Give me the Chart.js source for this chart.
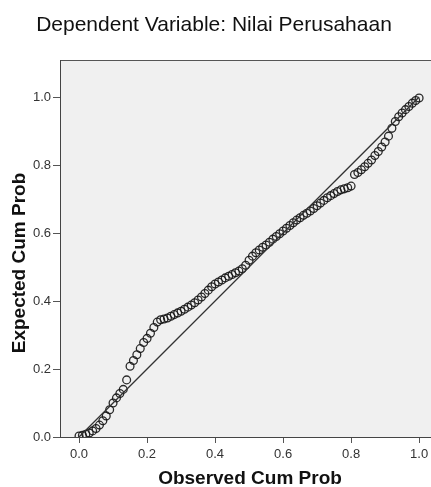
<!DOCTYPE html>
<html>
<head>
<meta charset="utf-8">
<script src="https://cdn.jsdelivr.net/npm/chart.js@4.4.1/dist/chart.umd.min.js"></script>
<style>
  html, body { margin: 0; padding: 0; background: #fff; }
  #wrap { width: 431px; height: 487px; }
</style>
</head>
<body>
<div id="wrap"><canvas id="ppplot" width="431" height="487"></canvas></div>
<script>
// P-P plot data
const chartTitle = "Dependent Variable: Nilai Perusahaan";
const xTitle = "Observed Cum Prob";
const yTitle = "Expected Cum Prob";

const tickValues = [0.0, 0.2, 0.4, 0.6, 0.8, 1.0];

const observedProb = [
  0.00, 0.01, 0.02, 0.03, 0.04, 0.05, 0.06, 0.07, 0.08, 0.09,
  0.10, 0.11, 0.12, 0.13, 0.14, 0.15, 0.16, 0.17, 0.18, 0.19,
  0.20, 0.21, 0.22, 0.23, 0.24, 0.25, 0.26, 0.27, 0.28, 0.29,
  0.30, 0.31, 0.32, 0.33, 0.34, 0.35, 0.36, 0.37, 0.38, 0.39,
  0.40, 0.41, 0.42, 0.43, 0.44, 0.45, 0.46, 0.47, 0.48, 0.49,
  0.50, 0.51, 0.52, 0.53, 0.54, 0.55, 0.56, 0.57, 0.58, 0.59,
  0.60, 0.61, 0.62, 0.63, 0.64, 0.65, 0.66, 0.67, 0.68, 0.69,
  0.70, 0.71, 0.72, 0.73, 0.74, 0.75, 0.76, 0.77, 0.78, 0.79,
  0.80, 0.81, 0.82, 0.83, 0.84, 0.85, 0.86, 0.87, 0.88, 0.89,
  0.90, 0.91, 0.92, 0.93, 0.94, 0.95, 0.96, 0.97, 0.98, 0.99,
  1.00
];

const expectedProb = [
  0.003, 0.005, 0.008, 0.012, 0.018, 0.025, 0.035, 0.048, 0.062, 0.080,
  0.100, 0.115, 0.128, 0.140, 0.168, 0.208, 0.225, 0.242, 0.260, 0.278,
  0.290, 0.305, 0.322, 0.338, 0.345, 0.347, 0.350, 0.355, 0.360, 0.365,
  0.370, 0.376, 0.382, 0.388, 0.395, 0.403, 0.412, 0.422, 0.432, 0.442,
  0.450, 0.456, 0.462, 0.468, 0.473, 0.478, 0.483, 0.488, 0.495, 0.505,
  0.520, 0.532, 0.542, 0.550, 0.558, 0.565, 0.573, 0.582, 0.590, 0.598,
  0.606, 0.614, 0.622, 0.630, 0.638, 0.645, 0.652, 0.658, 0.665, 0.672,
  0.680, 0.688, 0.696, 0.704, 0.710, 0.716, 0.722, 0.727, 0.730, 0.733,
  0.738, 0.772, 0.778, 0.786, 0.795, 0.805, 0.815, 0.828, 0.840, 0.853,
  0.868, 0.885, 0.908, 0.928, 0.942, 0.953, 0.963, 0.972, 0.982, 0.990,
  0.997
];

// reference (diagonal) line
const refLineX = [0, 1];
const refLineY = [0, 1];

const points = observedProb.map((x, i) => ({ x: x, y: expectedProb[i] }));
const refLine = refLineX.map((x, i) => ({ x: x, y: refLineY[i] }));

const fontFamily = '"Liberation Sans", Arial, sans-serif';

// plot background, top border and the texts
const decorPlugin = {
  id: 'decor',
  beforeDraw(chart) {
    const c = chart.ctx;
    const a = chart.chartArea;
    c.save();
    c.fillStyle = '#f0f0f0';
    c.fillRect(a.left, a.top, a.right - a.left, a.bottom - a.top);
    c.strokeStyle = '#555';
    c.lineWidth = 1;
    c.beginPath();
    c.moveTo(a.left, a.top + 0.5);
    c.lineTo(a.right, a.top + 0.5);
    c.stroke();
    c.restore();
  },
  afterDraw(chart) {
    const c = chart.ctx;
    c.save();
    c.fillStyle = '#111';
    c.textAlign = 'center';
    c.textBaseline = 'alphabetic';
    c.font = '21px ' + fontFamily;
    c.fillText(chartTitle, 214, 31);

    c.font = 'bold 19px ' + fontFamily;
    c.fillText(xTitle, 250, 484);

    c.translate(25, 263);
    c.rotate(-Math.PI / 2);
    c.fillText(yTitle, 0, 0);
    c.restore();
  }
};

const ctx = document.getElementById('ppplot');

new Chart(ctx, {
  type: 'scatter',
  data: {
    datasets: [
      {
        label: 'line',
        data: refLine,
        showLine: true,
        borderColor: '#333',
        borderWidth: 1.3,
        pointRadius: 0,
        fill: false
      },
      {
        label: 'points',
        data: points,
        pointStyle: 'circle',
        pointRadius: 3.9,
        borderWidth: 1.3,
        borderColor: 'rgba(20,20,20,0.9)',
        backgroundColor: 'rgba(0,0,0,0)'
      }
    ]
  },
  options: {
    responsive: false,
    animation: false,
    layout: { autoPadding: false, padding: { top: 60, right: 0, left: 0, bottom: 0 } },
    plugins: {
      legend: { display: false },
      tooltip: { enabled: false },
      title: { display: false }
    },
    scales: {
      x: {
        type: 'linear',
        min: -0.056,
        max: 1.035,
        afterBuildTicks: axis => { axis.ticks = tickValues.map(v => ({ value: v })); },
        afterFit: axis => { axis.height = 50; axis.paddingRight = 0; axis.paddingLeft = 0; },
        grid: { drawOnChartArea: false, drawTicks: true, tickLength: 6, color: '#555' },
        border: { display: true, color: '#444', width: 1 },
        ticks: {
          padding: 4,
          color: '#333',
          font: { family: fontFamily, size: 13 },
          callback: v => v.toFixed(1)
        }
      },
      y: {
        type: 'linear',
        min: 0,
        max: 1.109,
        afterBuildTicks: axis => { axis.ticks = tickValues.map(v => ({ value: v })); },
        afterFit: axis => { axis.width = 60; },
        grid: { drawOnChartArea: false, drawTicks: true, tickLength: 7, color: '#555' },
        border: { display: true, color: '#444', width: 1 },
        ticks: {
          padding: 2,
          color: '#333',
          font: { family: fontFamily, size: 13 },
          callback: v => v.toFixed(1)
        }
      }
    }
  },
  plugins: [decorPlugin]
});
</script>
</body>
</html>
